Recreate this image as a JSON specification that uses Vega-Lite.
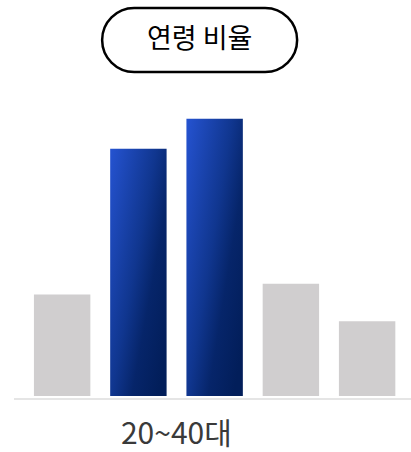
{
  "$schema": "https://vega.github.io/schema/vega-lite/v6.json",
  "width": 397,
  "height": 396,
  "autosize": {"type": "none"},
  "padding": {"left": 14, "top": 0, "right": 0, "bottom": 56},
  "background": "white",
  "config": {"view": {"stroke": null}},
  "datasets": {
    "bars": [
      {"group": "g1", "pct": 12.5, "highlight": false},
      {"group": "g2", "pct": 30.4, "highlight": true},
      {"group": "g3", "pct": 34.1, "highlight": true},
      {"group": "g4", "pct": 13.8, "highlight": false},
      {"group": "g5", "pct": 9.2, "highlight": false}
    ],
    "notes": [
      {"title": "연령 비율", "label": "20~40대"}
    ]
  },
  "layer": [
    {
      "data": {"name": "notes"},
      "mark": {"type": "rule", "color": "#dcdcdc", "strokeWidth": 1.5, "yOffset": 3},
      "encoding": {
        "y": {"datum": 0, "type": "quantitative", "scale": {"domain": [0, 48.71]}, "axis": null}
      }
    },
    {
      "data": {"name": "bars"},
      "transform": [{"filter": "!datum.highlight"}],
      "mark": {"type": "bar", "color": "#d0cecf"},
      "encoding": {
        "x": {"field": "group", "type": "nominal", "scale": {"domain": ["g1", "g2", "g3", "g4", "g5"], "paddingInner": 0.26, "paddingOuter": 0.2334, "align": 0.56}, "axis": null},
        "y": {"field": "pct", "type": "quantitative", "scale": {"domain": [0, 48.71]}, "axis": null}
      }
    },
    {
      "data": {"name": "bars"},
      "transform": [{"filter": "datum.highlight"}],
      "mark": {
        "type": "bar",
        "color": {
          "gradient": "linear",
          "x1": 0, "y1": 0, "x2": 1, "y2": 0.8,
          "stops": [
            {"offset": 0, "color": "#2553d1"},
            {"offset": 0.5, "color": "#10368f"},
            {"offset": 0.72, "color": "#06256a"},
            {"offset": 1, "color": "#021e5a"}
          ]
        }
      },
      "encoding": {
        "x": {"field": "group", "type": "nominal", "scale": {"domain": ["g1", "g2", "g3", "g4", "g5"], "paddingInner": 0.26, "paddingOuter": 0.2334, "align": 0.56}, "axis": null},
        "y": {"field": "pct", "type": "quantitative", "scale": {"domain": [0, 48.71]}, "axis": null}
      }
    },
    {
      "data": {"name": "notes"},
      "mark": {"type": "text", "font": "Noto Sans CJK KR", "fontSize": 30, "color": "#3a3a3a", "baseline": "middle", "align": "center", "xOffset": 38, "yOffset": 39},
      "encoding": {
        "x": {"datum": "g2", "type": "nominal", "scale": {"domain": ["g1", "g2", "g3", "g4", "g5"], "paddingInner": 0.26, "paddingOuter": 0.2334, "align": 0.56}, "axis": null},
        "y": {"datum": 0, "type": "quantitative", "scale": {"domain": [0, 48.71]}, "axis": null},
        "text": {"field": "label"}
      }
    },
    {
      "data": {"name": "notes"},
      "mark": {"type": "rect", "fill": "white", "stroke": "black", "strokeWidth": 2.5, "cornerRadius": 32, "width": 195, "height": 64, "xOffset": -15},
      "encoding": {
        "x": {"datum": "g3", "type": "nominal", "scale": {"domain": ["g1", "g2", "g3", "g4", "g5"], "paddingInner": 0.26, "paddingOuter": 0.2334, "align": 0.56}, "axis": null},
        "y": {"datum": 43.79, "type": "quantitative", "scale": {"domain": [0, 48.71]}, "axis": null}
      }
    },
    {
      "data": {"name": "notes"},
      "mark": {"type": "text", "font": "Noto Sans CJK KR", "fontSize": 27, "color": "black", "baseline": "middle", "align": "center", "xOffset": -15},
      "encoding": {
        "x": {"datum": "g3", "type": "nominal", "scale": {"domain": ["g1", "g2", "g3", "g4", "g5"], "paddingInner": 0.26, "paddingOuter": 0.2334, "align": 0.56}, "axis": null},
        "y": {"datum": 43.79, "type": "quantitative", "scale": {"domain": [0, 48.71]}, "axis": null},
        "text": {"field": "title"}
      }
    }
  ]
}
